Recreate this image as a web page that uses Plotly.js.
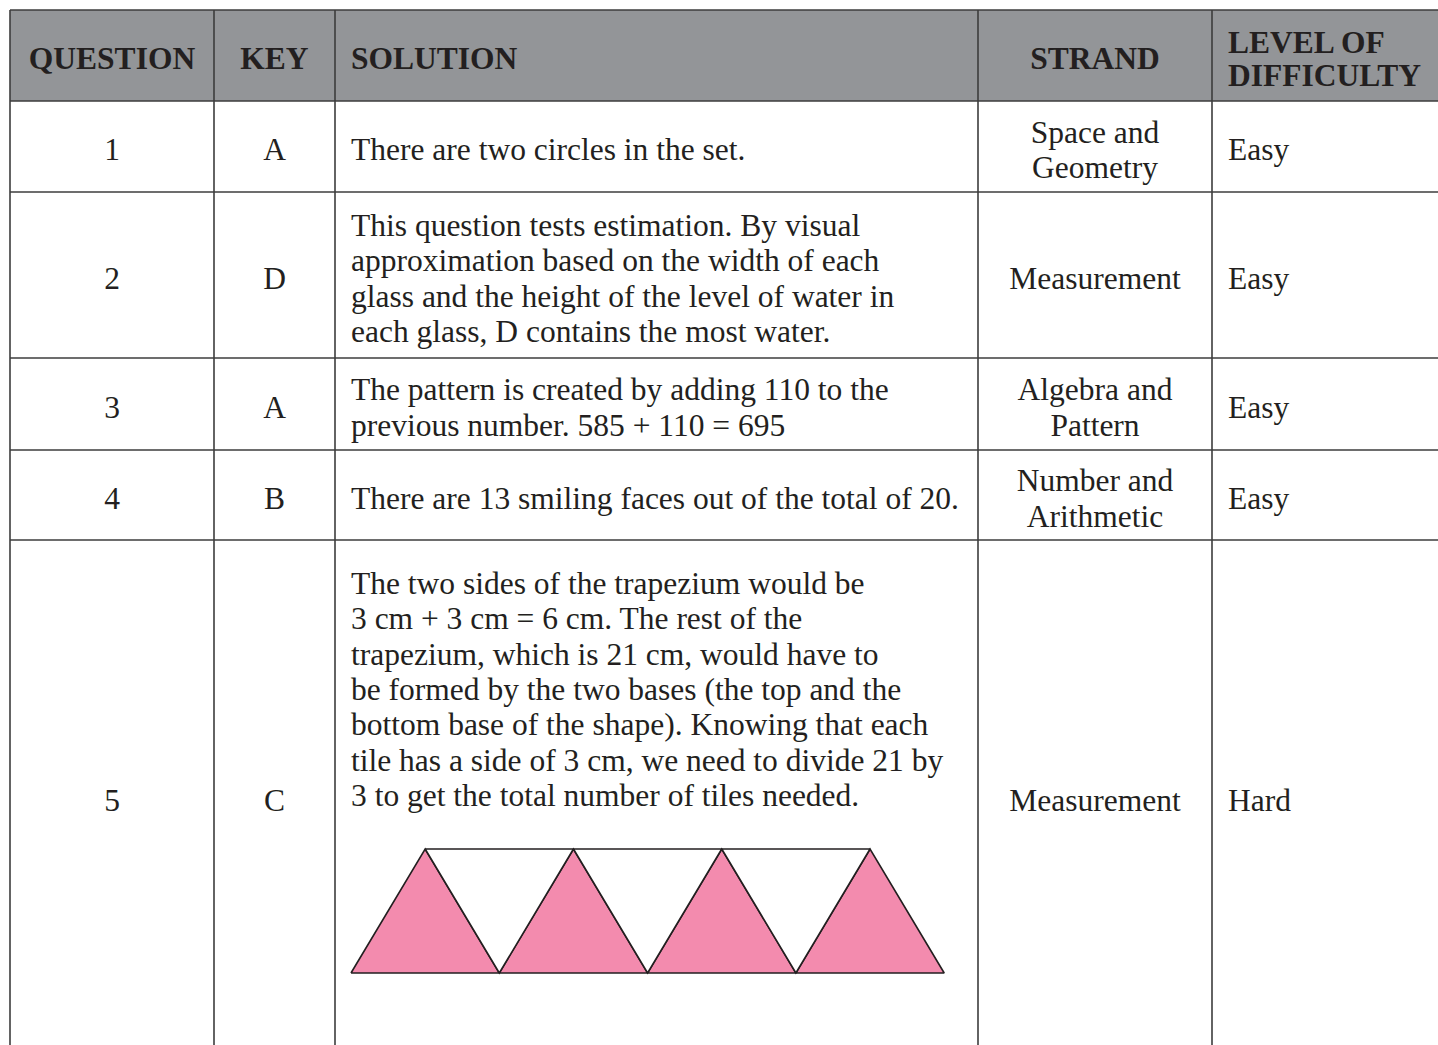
<!DOCTYPE html>
<html>
<head>
<meta charset="utf-8">
<script src="https://cdn.plot.ly/plotly-3.0.1.min.js"></script>
<style>
  html, body { margin: 0; padding: 0; background: #ffffff; }
  #chart { width: 1438px; height: 1045px; }
</style>
</head>
<body>
<div id="chart"></div>
<script>
// ---- table content ----
const headers = [['QUESTION'], ['KEY'], ['SOLUTION'], ['STRAND'], ['LEVEL OF', 'DIFFICULTY']];
const questions = ['1', '2', '3', '4', '5'];
const keys = ['A', 'D', 'A', 'B', 'C'];
const solutions = [
  ['There are two circles in the set.'],
  ['This question tests estimation. By visual',
   'approximation based on the width of each',
   'glass and the height of the level of water in',
   'each glass, D contains the most water.'],
  ['The pattern is created by adding 110 to the',
   'previous number. 585 + 110 = 695'],
  ['There are 13 smiling faces out of the total of 20.'],
  ['The two sides of the trapezium would be',
   '3 cm + 3 cm = 6 cm. The rest of the',
   'trapezium, which is 21 cm, would have to',
   'be formed by the two bases (the top and the',
   'bottom base of the shape). Knowing that each',
   'tile has a side of 3 cm, we need to divide 21 by',
   '3 to get the total number of tiles needed.']
];
const strands = [['Space and', 'Geometry'], ['Measurement'], ['Algebra and', 'Pattern'],
                 ['Number and', 'Arithmetic'], ['Measurement']];
const levels = ['Easy', 'Easy', 'Easy', 'Easy', 'Hard'];

// trapezium of question 5: pink tiles on the bottom base, white tiles on the top base
const bottomTiles = 4;
const topTiles = 3;

// ---- layout grid (px in the page) ----
const colEdges = [10, 214, 335, 978, 1212, 1460];
const rowEdges = [10, 101, 192, 358, 450, 540, 1054];
const colAlign = ['center', 'center', 'left', 'center', 'left'];
const padLeft = 16;
const linePitch = 35.4;
const headPitch = 33;
const textShift = 6;
const ink = '#231f20';
const rule = '#3d3d3d';
const serif = '"Liberation Serif", "Times New Roman", serif';

function cellPoints(lines, col, row, pitch, top) {
  const x0 = colEdges[col], x1 = colEdges[col + 1];
  const x = colAlign[col] === 'left' ? x0 + padLeft : (x0 + x1) / 2;
  const yc = (rowEdges[row] + rowEdges[row + 1]) / 2 + textShift;
  return lines.map((t, i) => ({
    x: x,
    y: top !== undefined ? rowEdges[row] + top + i * pitch : yc + (i - (lines.length - 1) / 2) * pitch,
    t: t,
    pos: colAlign[col] === 'left' ? 'middle right' : 'middle center'
  }));
}

let pts = [];
let headPts = [];
headers.forEach((h, c) => { headPts = headPts.concat(cellPoints(h, c, 0, headPitch)); });
questions.forEach((q, r) => {
  const row = r + 1;
  const hasFigure = r === 4;
  pts = pts.concat(cellPoints([q], 0, row, linePitch));
  pts = pts.concat(cellPoints([keys[r]], 1, row, linePitch));
  pts = pts.concat(cellPoints(solutions[r], 2, row, linePitch, hasFigure ? 46 : undefined));
  pts = pts.concat(cellPoints(strands[r], 3, row, linePitch));
  pts = pts.concat(cellPoints([levels[r]], 4, row, linePitch));
});

function textTrace(p, size, bold) {
  return {
    type: 'scatter', mode: 'text',
    x: p.map(d => d.x), y: p.map(d => d.y),
    text: p.map(d => bold ? '<b>' + d.t + '</b>' : d.t),
    textposition: p.map(d => d.pos),
    textfont: { family: serif, size: size, color: ink },
    hoverinfo: 'skip', showlegend: false
  };
}

// ---- trapezium figure ----
const figX = colEdges[2] + padLeft;   // left of bottom base
const figBase = 973;                  // y of bottom base
const tileW = 148.3;
const tileH = 124;
const figTraces = [];
for (let i = 0; i < bottomTiles; i++) {
  const xl = figX + i * tileW;
  figTraces.push({
    type: 'scatter', mode: 'lines', fill: 'toself', fillcolor: '#f38bae',
    x: [xl, xl + tileW / 2, xl + tileW, xl],
    y: [figBase, figBase - tileH, figBase, figBase],
    line: { color: ink, width: 1.6 }, hoverinfo: 'skip', showlegend: false
  });
}
for (let i = 0; i < topTiles; i++) {
  const xl = figX + tileW / 2 + i * tileW;
  figTraces.push({
    type: 'scatter', mode: 'lines', fill: 'toself', fillcolor: '#ffffff',
    x: [xl, xl + tileW, xl + tileW / 2, xl],
    y: [figBase - tileH, figBase - tileH, figBase, figBase - tileH],
    line: { color: ink, width: 1.6 }, hoverinfo: 'skip', showlegend: false
  });
}

// ---- grid shapes ----
const shapes = [{
  type: 'rect', xref: 'x', yref: 'y', layer: 'below',
  x0: colEdges[0], x1: colEdges[colEdges.length - 1], y0: rowEdges[0], y1: rowEdges[1],
  fillcolor: '#939598', line: { width: 0 }
}];
rowEdges.forEach(y => shapes.push({
  type: 'line', xref: 'x', yref: 'y', x0: colEdges[0], x1: colEdges[colEdges.length - 1],
  y0: y, y1: y, line: { color: rule, width: 1.6 }
}));
colEdges.forEach(x => shapes.push({
  type: 'line', xref: 'x', yref: 'y', x0: x, x1: x,
  y0: rowEdges[0], y1: rowEdges[rowEdges.length - 1], line: { color: rule, width: 1.6 }
}));

const layout = {
  width: 1438, height: 1045,
  margin: { t: 0, b: 0, l: 0, r: 0 },
  paper_bgcolor: '#ffffff', plot_bgcolor: '#ffffff',
  xaxis: { range: [0, 1438], visible: false, fixedrange: true },
  yaxis: { range: [1045, 0], visible: false, fixedrange: true },
  shapes: shapes,
  showlegend: false
};

Plotly.newPlot('chart', [...figTraces, textTrace(headPts, 31.5, true), textTrace(pts, 31.5, false)],
  layout, { displayModeBar: false, staticPlot: true });
</script>
</body>
</html>
